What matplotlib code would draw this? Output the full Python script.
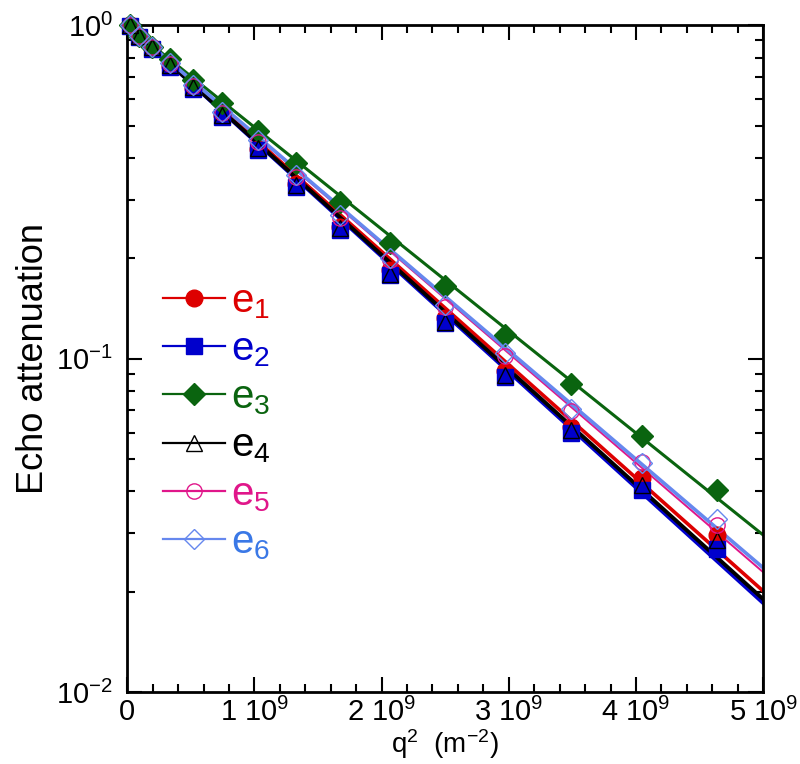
import matplotlib
matplotlib.use('Agg')
import matplotlib.pyplot as plt
from matplotlib.lines import Line2D
from matplotlib import ticker
import numpy as np

plt.rcParams['font.family'] = ['Liberation Sans', 'DejaVu Sans']
plt.rcParams['mathtext.fontset'] = 'custom'
plt.rcParams['mathtext.rm'] = 'Liberation Sans'
plt.rcParams['mathtext.it'] = 'Liberation Sans:italic'
plt.rcParams['mathtext.default'] = 'regular'
plt.rcParams['axes.unicode_minus'] = False

# q^2 values (m^-2)
q2 = np.array([0.025, 0.094, 0.197, 0.338, 0.519, 0.747, 1.026, 1.329,
               1.675, 2.068, 2.500, 2.972, 3.491, 4.049, 4.638]) * 1e9

# echo attenuation, one list per sample
e1 = [1.0, 0.920, 0.853, 0.754, 0.647, 0.537, 0.425, 0.333, 0.249, 0.184,
      0.132, 0.0918, 0.0624, 0.0438, 0.0296]
e2 = [0.993, 0.920, 0.847, 0.748, 0.643, 0.530, 0.422, 0.327, 0.243, 0.178,
      0.128, 0.0881, 0.0598, 0.0404, 0.0269]
e3 = [1.0, 0.927, 0.859, 0.791, 0.684, 0.583, 0.481, 0.386, 0.296, 0.223,
      0.165, 0.118, 0.0839, 0.0586, 0.0404]
e4 = [1.0, 0.927, 0.859, 0.759, 0.652, 0.537, 0.428, 0.331, 0.246, 0.180,
      0.129, 0.0893, 0.0611, 0.0418, 0.0286]
e5 = [1.0, 0.927, 0.859, 0.764, 0.656, 0.545, 0.446, 0.350, 0.265, 0.197,
      0.143, 0.102, 0.0697, 0.0490, 0.0317]
e6 = [1.0, 0.927, 0.859, 0.769, 0.661, 0.548, 0.452, 0.355, 0.269, 0.200,
      0.145, 0.104, 0.0706, 0.0486, 0.0330]

# straight-line fits (value at q^2 = 0 and at q^2 = 5e9)
fit_x = [0, 5e9]
fit = {
    'e1': [1.0, 0.0201],
    'e2': [1.0, 0.0185],
    'e3': [1.0, 0.0296],
    'e4': [1.0, 0.0190],
    'e5': [1.0, 0.0229],
    'e6': [1.0, 0.0236],
}

data = {'e1': e1, 'e2': e2, 'e3': e3, 'e4': e4, 'e5': e5, 'e6': e6}

styles = {
    'e1': dict(color='#dd0000', marker='o', mfc='#dd0000', ms=12, lw=2.6),
    'e2': dict(color='#0000cc', marker='s', mfc='#0000cc', ms=11, lw=2.8),
    'e3': dict(color='#0a640f', marker='D', mfc='#0a640f', ms=11, lw=2.2),
    'e4': dict(color='black', marker='^', mfc='none', ms=11, lw=2.8),
    'e5': dict(color='#e0168a', marker='o', mfc='none', ms=11, lw=1.4),
    'e6': dict(color='#6688ee', marker='D', mfc='none', ms=10.5, lw=2.6),
}
text_colors = {'e1': '#dd0000', 'e2': '#0000cc', 'e3': '#0a640f',
               'e4': 'black', 'e5': '#e0168a', 'e6': '#3a78e6'}

fig = plt.figure(figsize=(8, 7.64), dpi=100)
ax = fig.add_axes([0.159, 0.094, 0.795, 0.873])

handles = []
for name in ['e1', 'e2', 'e3', 'e4', 'e5', 'e6']:
    st = styles[name]
    ax.plot(fit_x, fit[name], color=st['color'], lw=st['lw'], zorder=2)
for name in ['e1', 'e2', 'e3', 'e4', 'e5', 'e6']:
    st = styles[name]
    ax.plot(q2, data[name], ls='none', marker=st['marker'], ms=st['ms'],
            mfc=st['mfc'], mec=st['color'], mew=1.0, zorder=3, clip_on=False)
    handles.append(Line2D([], [], color=st['color'], lw=1.6,
                          marker=st['marker'], ms=st['ms'],
                          mfc=st['mfc'], mec=st['color'], mew=1.0))

ax.set_yscale('log')
ax.set_xlim(0, 5e9)
ax.set_ylim(1e-2, 1)

ax.xaxis.set_major_locator(ticker.MultipleLocator(1e9))
ax.xaxis.set_minor_locator(ticker.MultipleLocator(2e8))


def xfmt(v, pos):
    n = int(round(v / 1e9))
    if n == 0:
        return '0'
    return r'$%d\ 10^{9}$' % n


ax.xaxis.set_major_formatter(ticker.FuncFormatter(xfmt))

ax.tick_params(which='both', direction='in', top=True, right=True,
               width=1.5, labelsize=21, pad=10)
ax.tick_params(axis='x', pad=4)
ax.tick_params(which='major', length=11)
ax.tick_params(which='minor', length=6)
for sp in ax.spines.values():
    sp.set_linewidth(2)

ax.set_xlabel(r'$q^{2}\ \ (m^{-2})$', fontsize=20)
ax.xaxis.set_label_coords(0.5, -0.053)
ax.set_ylabel('Echo attenuation', fontsize=26)
ax.yaxis.set_label_coords(-0.12, 0.5)

labels = [r'$e_{%s}$' % n[1] for n in data]
leg = ax.legend(handles, labels, loc='upper left',
                bbox_to_anchor=(0.056, 0.615), frameon=False, fontsize=29,
                handlelength=1.55, handletextpad=0.15, labelspacing=0.24,
                borderpad=0, borderaxespad=0)
for t, name in zip(leg.get_texts(), data):
    t.set_color(text_colors[name])

fig.savefig('out.png', dpi=100)
